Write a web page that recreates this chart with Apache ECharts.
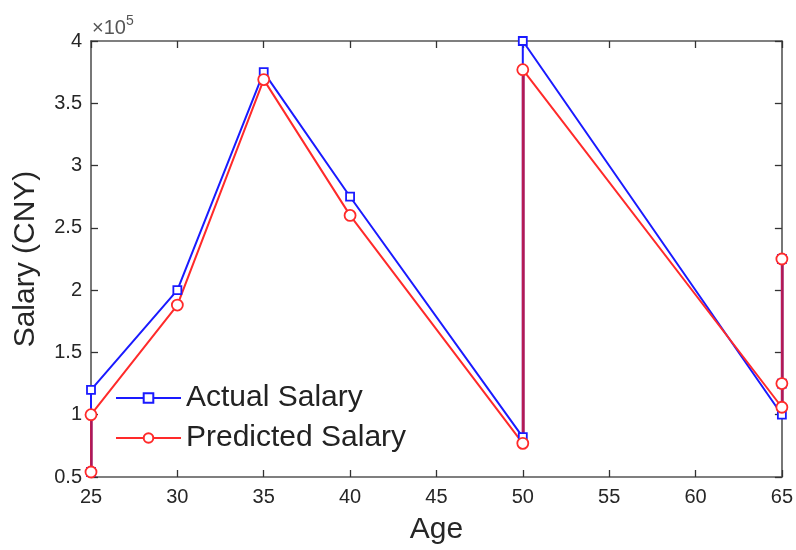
<!DOCTYPE html>
<html>
<head>
<meta charset="utf-8">
<script src="https://cdn.jsdelivr.net/npm/echarts@6/dist/echarts.min.js"></script>
<style>
html,body{margin:0;padding:0;background:#fff;}
#chart{width:796px;height:550px;}
</style>
</head>
<body>
<div id="chart"></div>
<script>
// Data (salary in CNY)
const ages = [25, 25, 30, 35, 40, 50, 50, 65, 65, 65];
const actualSalary = [54000, 120000, 200000, 375000, 275000, 82000, 400000, 100000, 125000, 225000];
const predictedSalary = [54000, 100000, 188000, 369000, 260000, 77000, 377000, 106000, 125000, 225000];
const xTicks = [25, 30, 35, 40, 45, 50, 55, 60, 65];
const yTicks = [50000, 100000, 150000, 200000, 250000, 300000, 350000, 400000];

const BLUE = '#1a1aff';
const RED = '#ff2a2a';
const MIX = '#a8195e';
const FONT = 'Liberation Sans, Arial, Helvetica, sans-serif';

const actualPts = ages.map((a, i) => [a, actualSalary[i]]);
const predPts = ages.map((a, i) => [a, predictedSalary[i]]);

// overlapping vertical segments (same age, multiple records in both series)
function ranges(pts) {
  const m = {};
  pts.forEach(p => {
    if (!m[p[0]]) m[p[0]] = [p[1], p[1], 0];
    m[p[0]][0] = Math.min(m[p[0]][0], p[1]);
    m[p[0]][1] = Math.max(m[p[0]][1], p[1]);
    m[p[0]][2]++;
  });
  return m;
}
const ra = ranges(actualPts), rp = ranges(predPts);
const overlapSegs = [];
Object.keys(ra).forEach(k => {
  if (rp[k] && ra[k][2] > 1 && rp[k][2] > 1) {
    const lo = Math.max(ra[k][0], rp[k][0]);
    const hi = Math.min(ra[k][1], rp[k][1]);
    if (hi > lo) overlapSegs.push({coords: [[+k, lo], [+k, hi]]});
  }
});

const chart = echarts.init(document.getElementById('chart'));
const axisLine = {show: true, lineStyle: {color: '#555', width: 1.6}};
const tick = {show: true, inside: true, length: 7, lineStyle: {color: '#333', width: 1.3}};
const labelStyle = {color: '#262626', fontSize: 20, fontFamily: FONT};

chart.setOption({
  animation: false,
  backgroundColor: '#fff',
  grid: {left: 91, right: 9, top: 41, bottom: 72},
  graphic: [{
    type: 'text', left: 92, top: 14,
    style: {
      text: '×10{s|5}',
      rich: {s: {fontSize: 14, fill: '#555', fontFamily: FONT, padding: [0, 0, 14, 0]}},
      fontSize: 20, fill: '#555', fontFamily: FONT
    }
  }],
  legend: {
    data: ['Actual Salary', 'Predicted Salary'],
    orient: 'vertical', left: 110, top: 378,
    itemWidth: 65, itemHeight: 12, itemGap: 10,
    textStyle: {fontSize: 30, color: '#222', fontFamily: FONT}
  },
  xAxis: [{
    type: 'value', min: 25, max: 65, interval: 5,
    name: 'Age', nameLocation: 'middle', nameGap: 38,
    nameTextStyle: {fontSize: 30, color: '#262626', fontFamily: FONT},
    axisLine: axisLine, axisTick: tick,
    axisLabel: Object.assign({margin: 10, formatter: v => xTicks.includes(v) ? String(v) : ''}, labelStyle),
    splitLine: {show: false}
  }, {
    type: 'value', min: 25, max: 65, interval: 5, position: 'top',
    axisLine: axisLine, axisTick: tick, axisLabel: {show: false}, splitLine: {show: false}
  }],
  yAxis: [{
    type: 'value', min: 50000, max: 400000, interval: 50000,
    name: 'Salary (CNY)', nameLocation: 'middle', nameGap: 50,
    nameTextStyle: {fontSize: 30, color: '#262626', fontFamily: FONT},
    axisLine: axisLine, axisTick: tick,
    axisLabel: Object.assign({margin: 9, formatter: v => yTicks.includes(v) ? String(+(v / 1e5).toFixed(1)) : ''}, labelStyle),
    splitLine: {show: false}
  }, {
    type: 'value', min: 50000, max: 400000, interval: 50000, position: 'right',
    axisLine: axisLine, axisTick: tick, axisLabel: {show: false}, splitLine: {show: false}
  }],
  series: [
    {
      name: 'Actual Salary', type: 'line', data: actualPts, z: 2,
      showSymbol: false, symbol: 'emptyRect', symbolSize: 8,
      itemStyle: {color: BLUE}, lineStyle: {color: BLUE, width: 2}
    },
    {
      name: 'Predicted Salary', type: 'line', data: predPts, z: 3,
      showSymbol: false, symbol: 'emptyCircle', symbolSize: 11,
      itemStyle: {color: RED}, lineStyle: {color: RED, width: 2}
    },
    {
      name: 'overlap', type: 'lines', coordinateSystem: 'cartesian2d', z: 4,
      data: overlapSegs, lineStyle: {color: MIX, width: 2.5, opacity: 1}, silent: true
    },
    {
      name: 'Actual markers', type: 'scatter', data: actualPts, z: 5,
      symbol: 'rect', symbolSize: 8, silent: true,
      itemStyle: {color: '#fff', borderColor: BLUE, borderWidth: 1.8, opacity: 1}
    },
    {
      name: 'Predicted markers', type: 'scatter', data: predPts, z: 6,
      symbol: 'circle', symbolSize: 11, silent: true,
      itemStyle: {color: '#fff', borderColor: RED, borderWidth: 1.8, opacity: 1}
    }
  ]
});
</script>
</body>
</html>
